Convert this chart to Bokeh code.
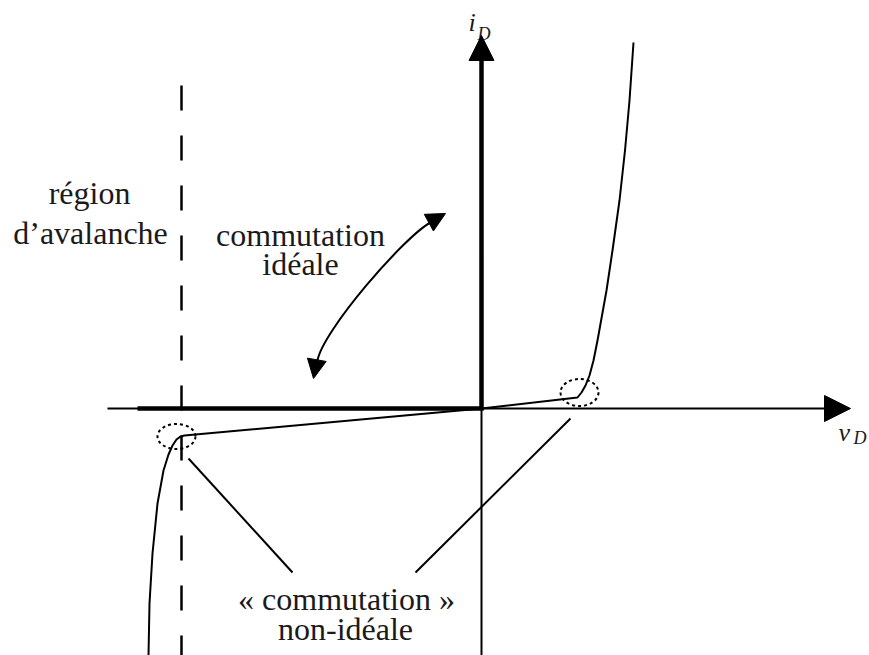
from bokeh.plotting import figure
from bokeh.models import Range1d, Arrow, NormalHead, ColumnDataSource
from bokeh.core.properties import value
from bokeh.embed import file_html
from bokeh.resources import INLINE

# ---- data (diagram units: 1 unit = 1 px, origin at the axes crossing) ----
# forward characteristic (real diode, v_D > 0)
fwd_v = [0, 96, 100, 104, 108, 112, 116, 120.5, 125, 131, 138, 143.5, 148, 152]
fwd_i = [0, 11, 16, 23, 33, 48, 68, 93, 118, 158, 208, 258, 308, 366]
# reverse characteristic (leakage then avalanche)
rev_v = [0, -297, -301, -305, -309, -313, -318, -324, -329, -332, -333]
rev_i = [0, -27, -28, -31, -37, -46, -62, -95, -145, -195, -247]
# ideal switch characteristic
ideal_v = [-344, 0, 0]
ideal_i = [0, 0, 348]
# avalanche (breakdown) voltage and dashed line extent
breakdown_v = [-300, -300]
breakdown_i = [323, -247]
# thin axes
vaxis_v = [-374, 345]
vaxis_i = [0, 0]
iaxis_neg_v = [0, 0]
iaxis_neg_i = [0, -247]
# knee markers (dotted ellipses)
knee_v = [-305, 98]
knee_i = [-28, 16]
knee_w = [38, 38]
knee_h = [25, 27]
# pointer lines from the "non-ideal" label to the knees
ptr_x0 = [-293, 89]
ptr_y0 = [-50, -10]
ptr_x1 = [-189, -66]
ptr_y1 = [-164, -164]

# text labels
lbl_text = ["région", "d’avalanche", "commutation", "idéale",
            "« commutation »", "non-idéale"]
lbl_x = [-392, -391, -181, -181, -135, -136]
lbl_y = [216, 176, 174, 145, -190, -220]

W, H = 869, 655
p = figure(width=W, height=H, x_range=Range1d(-481, 388), y_range=Range1d(-247, 408),
           output_backend="svg", toolbar_location=None, min_border=0,
           x_axis_type=None, y_axis_type=None, outline_line_color=None,
           background_fill_color="white", border_fill_color="white")
p.grid.visible = False

K = "black"

# dashed avalanche line
p.line(breakdown_v, breakdown_i, line_color=K, line_width=2.5, line_dash="25 25")

# thin axes
p.line(vaxis_v, vaxis_i, line_color=K, line_width=2)
p.line(iaxis_neg_v, iaxis_neg_i, line_color=K, line_width=2)
p.add_layout(Arrow(x_start=342, y_start=0, x_end=369, y_end=0, line_alpha=0,
                   end=NormalHead(size=26, fill_color=K, line_color=K, line_width=1)))

# ideal characteristic (thick)
p.line(ideal_v, ideal_i, line_color=K, line_width=4.5, line_join="miter")
p.add_layout(Arrow(x_start=0, y_start=346, x_end=0, y_end=373, line_alpha=0,
                   end=NormalHead(size=25, fill_color=K, line_color=K, line_width=1)))

# real characteristic
p.line(fwd_v, fwd_i, line_color=K, line_width=2, line_join="round")
p.line(rev_v, rev_i, line_color=K, line_width=2, line_join="round")

# knee markers
p.ellipse(x=knee_v, y=knee_i, width=knee_w, height=knee_h, fill_alpha=0,
          line_color=K, line_width=2, line_dash="3 3")

# pointer lines
p.segment(x0=ptr_x0, y0=ptr_y0, x1=ptr_x1, y1=ptr_y1, line_color=K, line_width=2)

# curved double arrow (commutation idéale)
p.bezier(x0=[-164], y0=[48], x1=[-51], y1=[186], cx0=[-159], cy0=[77.5],
         cx1=[-77], cy1=[172], line_color=K, line_width=2)
p.add_layout(Arrow(x_start=-165, y_start=47, x_end=-168, y_end=30, line_alpha=0,
                   end=NormalHead(size=19, fill_color=K, line_color=K, line_width=1)))
p.add_layout(Arrow(x_start=-51.5, y_start=186.5, x_end=-36, y_end=195, line_alpha=0,
                   end=NormalHead(size=19, fill_color=K, line_color=K, line_width=1)))

# text labels
src = ColumnDataSource(dict(x=lbl_x, y=lbl_y, text=lbl_text))
p.text(x="x", y="y", text="text", source=src, text_font=value("Liberation Serif"),
       text_font_size="32px", text_align="center", text_baseline="alphabetic",
       text_color="#1a1a1a")

# axis symbols
sym_main = ["i", "v"]
sym_main_x = [-13, 357]
sym_main_y = [386, -24]
sym_sub = ["D", "D"]
sym_sub_x = [-4, 372]
sym_sub_y = [375, -29]
p.text(x=sym_main_x, y=sym_main_y, text=sym_main, text_font=value("Liberation Serif"),
       text_font_style="italic", text_font_size="26px", text_align="left",
       text_baseline="alphabetic", text_color="#1a1a1a")
p.text(x=sym_sub_x, y=sym_sub_y, text=sym_sub, text_font=value("Liberation Serif"),
       text_font_style="italic", text_font_size="18px", text_align="left",
       text_baseline="alphabetic", text_color="#1a1a1a")

open("out.html", "w").write(file_html(p, INLINE))
